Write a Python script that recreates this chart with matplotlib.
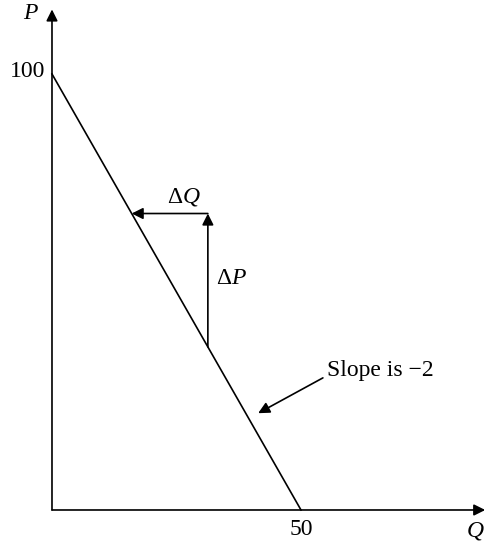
import matplotlib
matplotlib.use("Agg")
import matplotlib.pyplot as plt

plt.rcParams['font.family'] = ['Liberation Serif', 'DejaVu Serif']
plt.rcParams['mathtext.fontset'] = 'custom'
plt.rcParams['mathtext.rm'] = 'Liberation Serif'
plt.rcParams['mathtext.it'] = 'Liberation Serif:italic'

# Data
demand_q = [0, 50]
demand_p = [100, 0]
x_tick_values = [50]
x_tick_labels = ["50"]
y_tick_values = [100]
y_tick_labels = ["100"]
dq_from = (31.3, 68.0)
dq_to = (16.0, 68.0)
dp_from = (31.3, 37.4)
dp_to = (31.3, 68.0)
slope_tip = (41.4, 22.2)
slope_tail = (54.4, 30.3)
slope_text = "Slope is \u22122"

fig = plt.figure(figsize=(4.85, 5.45), dpi=100)
ax = fig.add_axes([0, 0, 1, 1])
ax.set_xlim(-10.44, 86.95)
ax.set_ylim(-8.03, 116.97)
ax.axis('off')

fs = 17
ap = dict(arrowstyle='-|>', color='black', lw=1.2, mutation_scale=17,
          shrinkA=0, shrinkB=0)

# axes
ax.annotate("", xy=(0, 114.8), xytext=(0, 0), arrowprops=ap)
ax.annotate("", xy=(87.0, 0), xytext=(0, 0), arrowprops=ap)

# demand line
ax.plot(demand_q, demand_p, color='black', lw=1.2)

# labels
ax.text(-4.4, 113.8, "P", style='italic', fontsize=fs, ha='center', va='center')
ax.text(84.9, -4.8, "Q", style='italic', fontsize=fs, ha='center', va='center')
for v, lab in zip(y_tick_values, y_tick_labels):
    ax.text(-1.4, v + 0.6, lab, fontsize=fs, ha='right', va='center')
for v, lab in zip(x_tick_values, x_tick_labels):
    ax.text(v, -4.4, lab, fontsize=fs, ha='center', va='center')

# delta arrows
ax.annotate("", xy=dq_to, xytext=dq_from, arrowprops=ap)
ax.annotate("", xy=dp_to, xytext=dp_from, arrowprops=ap)
ax.text(26.5, 71.8, r"$\Delta Q$", fontsize=fs, ha='center', va='center')
ax.text(36.0, 53.0, r"$\Delta P$", fontsize=fs, ha='center', va='center')

# slope annotation
ax.annotate("", xy=slope_tip, xytext=slope_tail, arrowprops=ap)
ax.text(55.3, 32.1, slope_text, fontsize=fs, ha='left', va='center')

fig.savefig("out.png", dpi=100)
